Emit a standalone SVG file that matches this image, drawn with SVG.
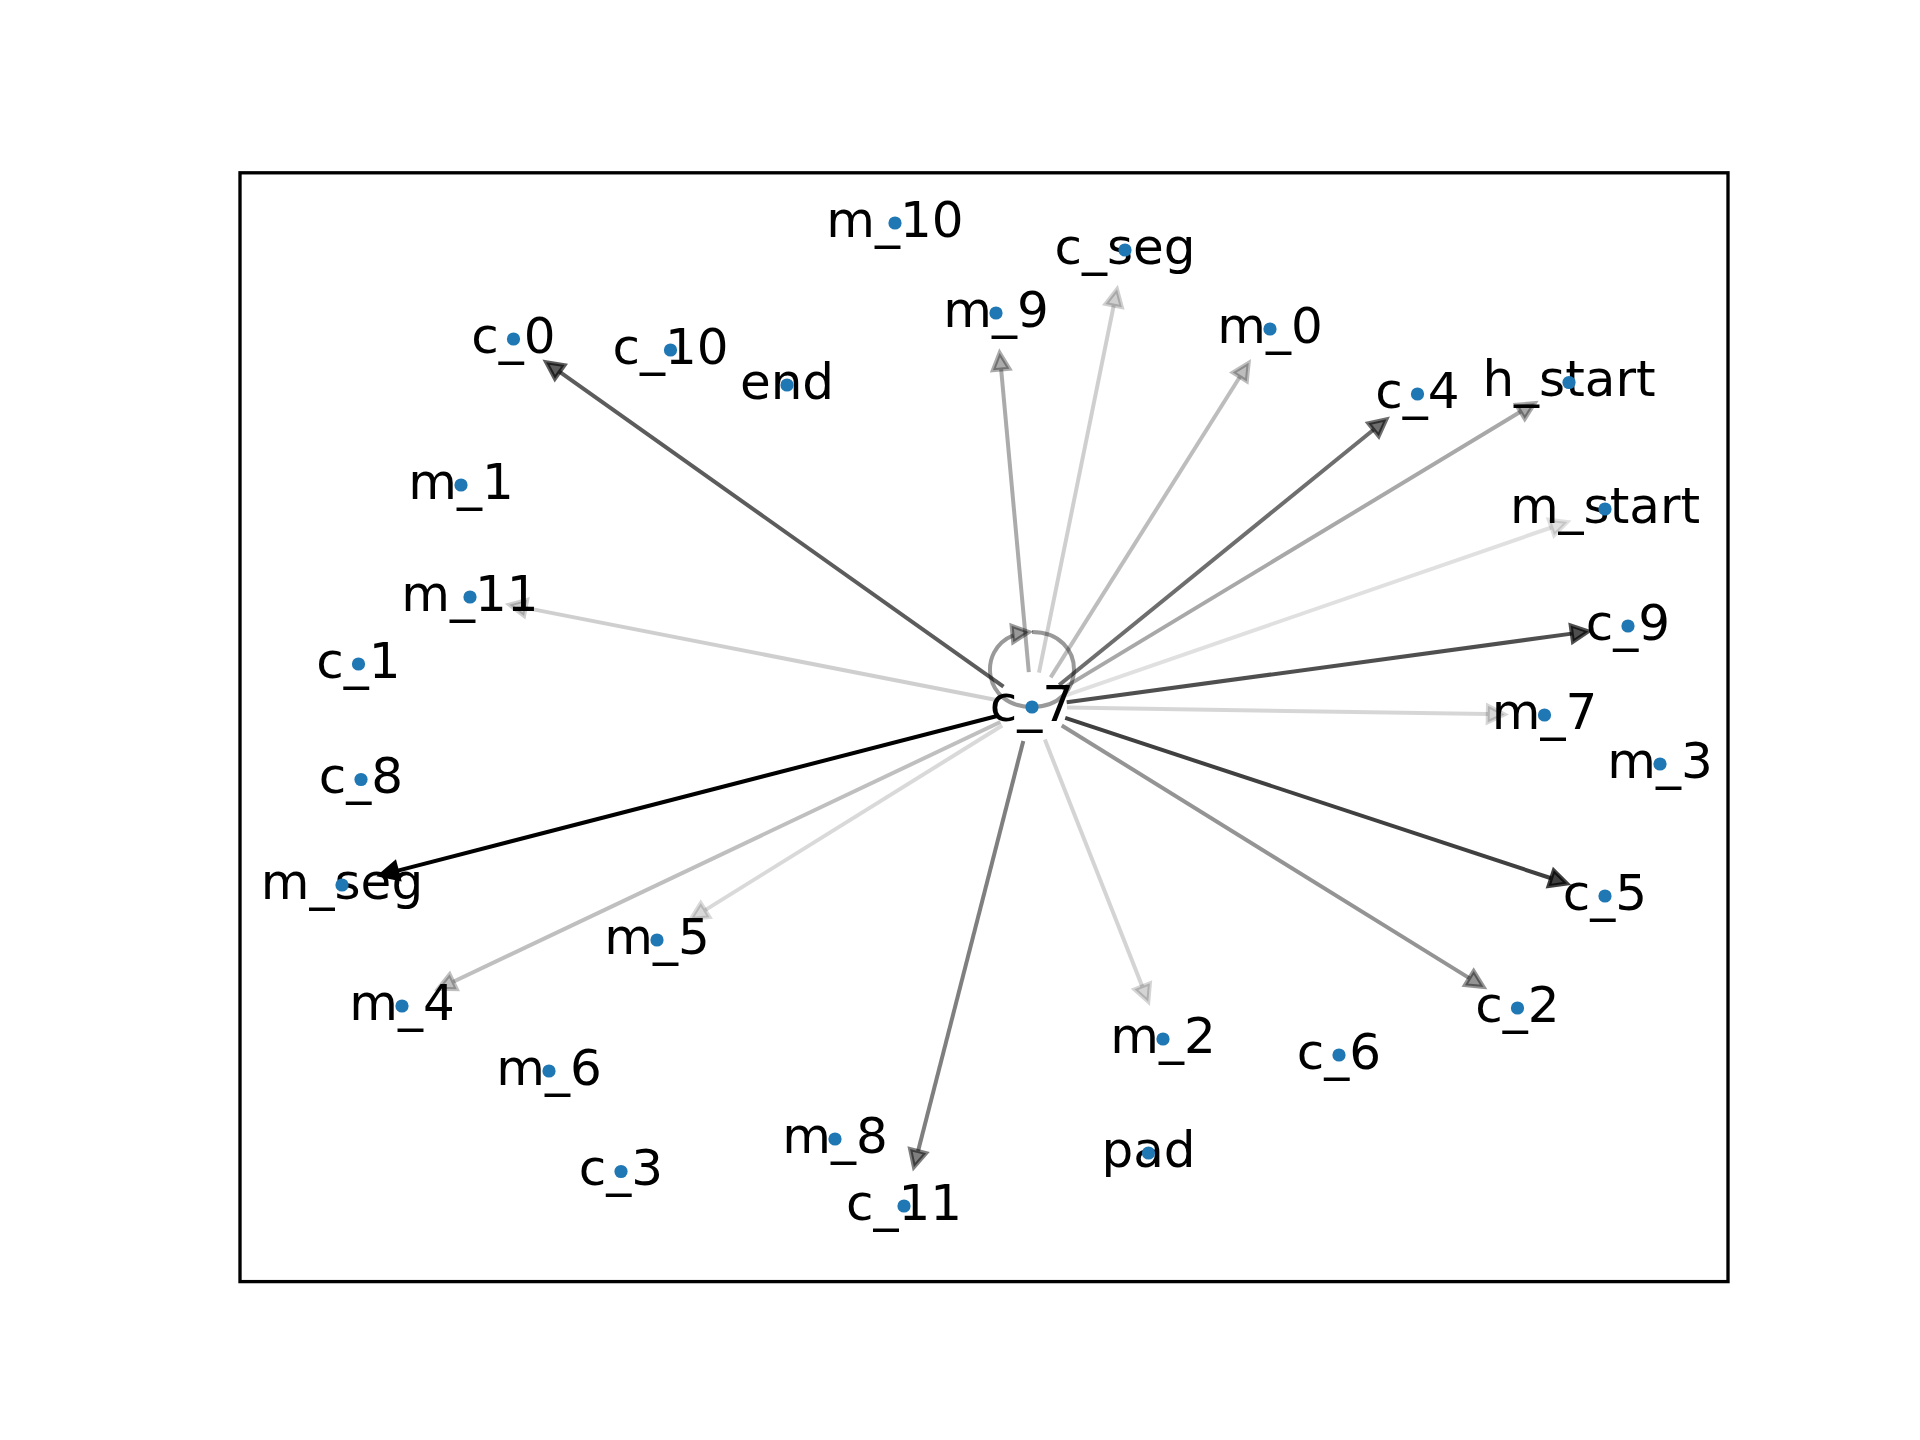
<svg xmlns="http://www.w3.org/2000/svg" width="1920" height="1440" viewBox="0 0 1920 1440">
<style>
.lbl{font-family:"DejaVu Sans","Liberation Sans",sans-serif;font-size:50px;text-anchor:middle;fill:#000}
.dot{fill:#1f77b4}
.edge line,.edge path{stroke:#000;stroke-width:4;fill:none}
.edge polygon{fill:#000;stroke:#000;stroke-width:4;stroke-linejoin:miter}
.frame{fill:none;stroke:#000;stroke-width:3.33}
</style>
<rect x="0" y="0" width="1920" height="1440" fill="#fff"/>
<g id="connectors">
<g class="edge" id="e-c_7-c_0" stroke-opacity="0.64" fill-opacity="0.64"><line x1="1003.5" y1="686.7" x2="559.7" y2="371.9"/><polygon points="546.1,362.2 564.5,365.1 554.9,378.7"/></g>
<g class="edge" id="e-c_7-m_11" stroke-opacity="0.19" fill-opacity="0.19"><line x1="997.65" y1="700.28" x2="525.64" y2="607.89"/><polygon points="509.25,604.68 527.23,599.75 524.05,616.03"/></g>
<g class="edge" id="e-c_7-m_9" stroke-opacity="0.33" fill-opacity="0.33"><line x1="1028.81" y1="672.14" x2="1001.16" y2="369.47"/><polygon points="999.64,352.84 1009.43,368.71 992.89,370.23"/></g>
<g class="edge" id="e-c_7-c_seg" stroke-opacity="0.19" fill-opacity="0.19"><line x1="1038.98" y1="672.7" x2="1113.69" y2="305.56"/><polygon points="1117.02,289.2 1121.82,307.22 1105.56,303.9"/></g>
<g class="edge" id="e-c_7-m_0" stroke-opacity="0.26" fill-opacity="0.26"><line x1="1050.65" y1="677.38" x2="1239.79" y2="376.98"/><polygon points="1248.69,362.85 1246.81,381.4 1232.77,372.56"/></g>
<g class="edge" id="e-c_7-c_4" stroke-opacity="0.57" fill-opacity="0.57"><line x1="1059.17" y1="684.94" x2="1373.49" y2="429.74"/><polygon points="1386.45,419.21 1378.72,436.18 1368.26,423.3"/></g>
<g class="edge" id="e-c_7-h_start" stroke-opacity="0.34" fill-opacity="0.34"><line x1="1061.96" y1="688.9" x2="1520.47" y2="411.83"/><polygon points="1534.76,403.19 1524.76,418.93 1516.18,404.73"/></g>
<g class="edge" id="e-c_7-m_start" stroke-opacity="0.12" fill-opacity="0.12"><line x1="1065.08" y1="695.57" x2="1551.41" y2="527.51"/><polygon points="1567.19,522.06 1554.12,535.36 1548.7,519.66"/></g>
<g class="edge" id="e-c_7-c_9" stroke-opacity="0.69" fill-opacity="0.69"><line x1="1066.68" y1="702.29" x2="1571.81" y2="633.64"/><polygon points="1588.36,631.39 1572.93,641.86 1570.69,625.42"/></g>
<g class="edge" id="e-c_7-m_7" stroke-opacity="0.16" fill-opacity="0.16"><line x1="1067" y1="707.55" x2="1487.8" y2="714.12"/><polygon points="1504.5,714.38 1487.67,722.42 1487.93,705.82"/></g>
<g class="edge" id="e-c_7-c_5" stroke-opacity="0.75" fill-opacity="0.75"><line x1="1065.24" y1="717.96" x2="1551.15" y2="878.24"/><polygon points="1567.01,883.47 1548.55,886.12 1553.75,870.36"/></g>
<g class="edge" id="e-c_7-c_2" stroke-opacity="0.42" fill-opacity="0.42"><line x1="1061.75" y1="725.44" x2="1469.3" y2="978.12"/><polygon points="1483.5,986.92 1464.93,985.18 1473.67,971.06"/></g>
<g class="edge" id="e-c_7-m_2" stroke-opacity="0.17" fill-opacity="0.17"><line x1="1044.85" y1="739.56" x2="1142.19" y2="986.26"/><polygon points="1148.32,1001.79 1134.47,989.31 1149.91,983.21"/></g>
<g class="edge" id="e-c_7-c_11" stroke-opacity="0.5" fill-opacity="0.5"><line x1="1023.31" y1="740.9" x2="918.09" y2="1151.08"/><polygon points="913.94,1167.26 910.05,1149.02 926.13,1153.14"/></g>
<g class="edge" id="e-c_7-m_5" stroke-opacity="0.15" fill-opacity="0.15"><line x1="1002.27" y1="725.47" x2="705.16" y2="910.08"/><polygon points="690.98,918.89 700.78,903.03 709.54,917.13"/></g>
<g class="edge" id="e-c_7-m_4" stroke-opacity="0.25" fill-opacity="0.25"><line x1="1000.38" y1="722" x2="453.23" y2="981.69"/><polygon points="438.14,988.85 449.67,974.19 456.79,989.19"/></g>
<g class="edge" id="e-c_7-m_seg" stroke-opacity="1" fill-opacity="1"><line x1="998.11" y1="715.74" x2="396.9" y2="870.84"/><polygon points="380.73,875.01 394.83,862.8 398.97,878.88"/></g>
<g class="edge" id="e-c_7-c_7" stroke-opacity="0.4" fill-opacity="0.4"><path d="M1032,632 C1088,632 1088,707 1032,707 C983.14,707 976.91,649.9 1013.31,635.35"/><polygon points="1029,632 1013.2,642.3 1011.6,625.7"/></g>
</g>
<g id="node-m_10"><text class="lbl" x="895" y="236.5">m_10</text><circle class="dot" cx="895" cy="223" r="6.6"/></g>
<g id="node-c_seg"><text class="lbl" x="1125" y="263.5">c_seg</text><circle class="dot" cx="1125" cy="250" r="6.6"/></g>
<g id="node-m_9"><text class="lbl" x="996" y="326.5">m_9</text><circle class="dot" cx="996" cy="313" r="6.6"/></g>
<g id="node-m_0"><text class="lbl" x="1270" y="342.5">m_0</text><circle class="dot" cx="1270" cy="329" r="6.6"/></g>
<g id="node-c_0"><text class="lbl" x="513.5" y="352.5">c_0</text><circle class="dot" cx="513.5" cy="339" r="6.6"/></g>
<g id="node-c_10"><text class="lbl" x="670.5" y="363.5">c_10</text><circle class="dot" cx="670.5" cy="350" r="6.6"/></g>
<g id="node-end"><text class="lbl" x="787" y="398.5">end</text><circle class="dot" cx="787" cy="385" r="6.6"/></g>
<g id="node-c_4"><text class="lbl" x="1417.5" y="407.5">c_4</text><circle class="dot" cx="1417.5" cy="394" r="6.6"/></g>
<g id="node-h_start"><text class="lbl" x="1569" y="396">h_start</text><circle class="dot" cx="1569" cy="382.5" r="6.6"/></g>
<g id="node-m_1"><text class="lbl" x="461" y="498.5">m_1</text><circle class="dot" cx="461" cy="485" r="6.6"/></g>
<g id="node-m_start"><text class="lbl" x="1605" y="522.5">m_start</text><circle class="dot" cx="1605" cy="509" r="6.6"/></g>
<g id="node-m_11"><text class="lbl" x="470" y="610.5">m_11</text><circle class="dot" cx="470" cy="597" r="6.6"/></g>
<g id="node-c_9"><text class="lbl" x="1628" y="639.5">c_9</text><circle class="dot" cx="1628" cy="626" r="6.6"/></g>
<g id="node-c_1"><text class="lbl" x="358.5" y="677.5">c_1</text><circle class="dot" cx="358.5" cy="664" r="6.6"/></g>
<g id="node-c_7"><text class="lbl" x="1032" y="720.5">c_7</text><circle class="dot" cx="1032" cy="707" r="6.6"/></g>
<g id="node-m_7"><text class="lbl" x="1544.5" y="728.5">m_7</text><circle class="dot" cx="1544.5" cy="715" r="6.6"/></g>
<g id="node-m_3"><text class="lbl" x="1660" y="777.5">m_3</text><circle class="dot" cx="1660" cy="764" r="6.6"/></g>
<g id="node-c_8"><text class="lbl" x="361" y="793">c_8</text><circle class="dot" cx="361" cy="779.5" r="6.6"/></g>
<g id="node-m_seg"><text class="lbl" x="342" y="898.5">m_seg</text><circle class="dot" cx="342" cy="885" r="6.6"/></g>
<g id="node-c_5"><text class="lbl" x="1605" y="909.5">c_5</text><circle class="dot" cx="1605" cy="896" r="6.6"/></g>
<g id="node-m_5"><text class="lbl" x="657" y="953.5">m_5</text><circle class="dot" cx="657" cy="940" r="6.6"/></g>
<g id="node-m_4"><text class="lbl" x="402" y="1019.5">m_4</text><circle class="dot" cx="402" cy="1006" r="6.6"/></g>
<g id="node-c_2"><text class="lbl" x="1517.5" y="1021.5">c_2</text><circle class="dot" cx="1517.5" cy="1008" r="6.6"/></g>
<g id="node-m_2"><text class="lbl" x="1163" y="1052.5">m_2</text><circle class="dot" cx="1163" cy="1039" r="6.6"/></g>
<g id="node-c_6"><text class="lbl" x="1339" y="1068.5">c_6</text><circle class="dot" cx="1339" cy="1055" r="6.6"/></g>
<g id="node-m_6"><text class="lbl" x="549" y="1084.5">m_6</text><circle class="dot" cx="549" cy="1071" r="6.6"/></g>
<g id="node-m_8"><text class="lbl" x="835" y="1152.5">m_8</text><circle class="dot" cx="835" cy="1139" r="6.6"/></g>
<g id="node-pad"><text class="lbl" x="1148.5" y="1166.5">pad</text><circle class="dot" cx="1148.5" cy="1153" r="6.6"/></g>
<g id="node-c_3"><text class="lbl" x="621" y="1185">c_3</text><circle class="dot" cx="621" cy="1171.5" r="6.6"/></g>
<g id="node-c_11"><text class="lbl" x="904" y="1219.5">c_11</text><circle class="dot" cx="904" cy="1206" r="6.6"/></g>
<rect class="frame" x="240" y="172.8" width="1488" height="1108.8"/>
</svg>
